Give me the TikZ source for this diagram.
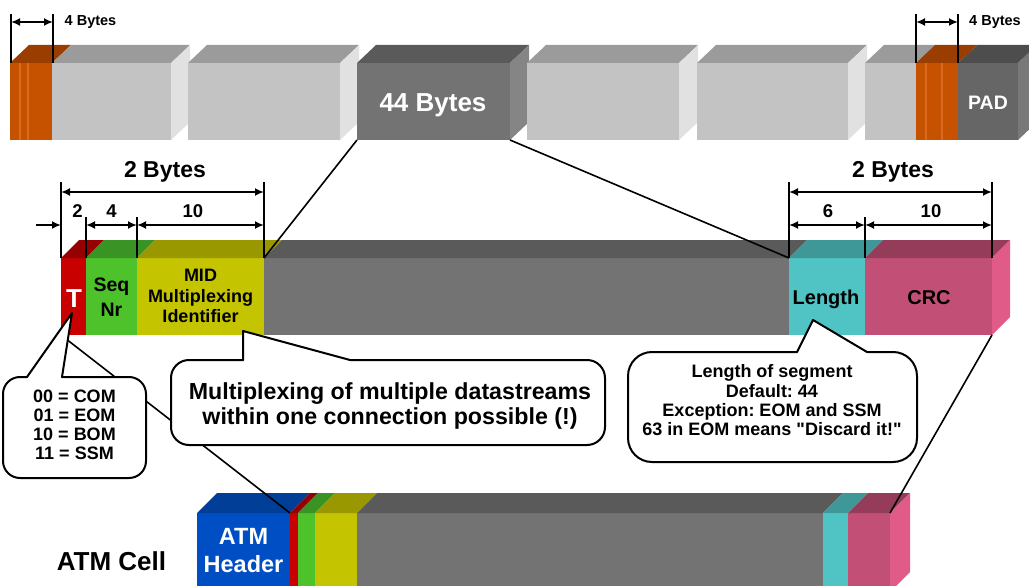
\documentclass[tikz,border=0pt]{standalone}
\usepackage{fontspec}
\setmainfont{Liberation Sans}
\newfontfamily\plainsans{Liberation Sans}
\usetikzlibrary{arrows.meta}
\definecolor{orF}{HTML}{C65200}
\definecolor{orT}{HTML}{9A3D00}
\definecolor{orS}{HTML}{DA6A22}
\definecolor{grF}{HTML}{C3C3C3}
\definecolor{grT}{HTML}{9B9B9B}
\definecolor{grS}{HTML}{E1E1E1}
\definecolor{dkF}{HTML}{737373}
\definecolor{dkT}{HTML}{5A5A5A}
\definecolor{dkS}{HTML}{858585}
\definecolor{pdF}{HTML}{666666}
\definecolor{pdT}{HTML}{4D4D4D}
\definecolor{pdS}{HTML}{787878}
\definecolor{rdF}{HTML}{C80000}
\definecolor{rdT}{HTML}{960000}
\definecolor{gnF}{HTML}{4EC22A}
\definecolor{gnT}{HTML}{3A9325}
\definecolor{ylF}{HTML}{C4C400}
\definecolor{ylT}{HTML}{9A9800}
\definecolor{mgF}{HTML}{737373}
\definecolor{mgT}{HTML}{5A5A5A}
\definecolor{cyF}{HTML}{50C4C4}
\definecolor{cyT}{HTML}{3E9898}
\definecolor{crF}{HTML}{C24F76}
\definecolor{crT}{HTML}{953C5A}
\definecolor{crS}{HTML}{E05B88}
\definecolor{blF}{HTML}{004EC3}
\definecolor{blT}{HTML}{003E98}
\newcommand{\fsz}[2]{\fontsize{#1pt}{#2pt}\selectfont}
\newcommand{\topblk}[4]{\fill[#3] (#1,63) rectangle (#2,140);
  \fill[#4] (#1,63) -- ({#1+19},45) -- ({#2+19},45) -- (#2,63) -- cycle;}
\newcommand{\topside}[2]{\fill[#2] (#1,63) -- ({#1+19},45) -- ({#1+19},122) -- (#1,140) -- cycle;}
\newcommand{\midseg}[4]{\fill[#3] (#1,258) rectangle (#2,335);
  \fill[#4] (#1,258) -- ({#1+18},240) -- ({#2+18},240) -- (#2,258) -- cycle;}
\newcommand{\botseg}[4]{\fill[#3] (#1,513) rectangle (#2,592);
  \fill[#4] (#1,513) -- ({#1+20},493) -- ({#2+20},493) -- (#2,513) -- cycle;}
\tikzset{
  conn/.style={draw=black, line width=1.6pt},
  calloutbox/.style={draw=black, line width=2pt, fill=white, line cap=round},
  pointer/.style={draw=black, line width=2pt, line cap=round, line join=round},
  dimv/.style={draw=black, line width=2pt},
  dima/.style={draw=black, line width=2pt, {Latex[length=9pt,width=8pt]}-{Latex[length=9pt,width=8pt]}},
  dimr/.style={draw=black, line width=2pt, -{Latex[length=9pt,width=8pt]}},
  lbl/.style={inner sep=0pt, font=\bfseries},
}
\frenchspacing
\begin{document}
\begin{tikzpicture}[x=1pt,y=-1pt]
\useasboundingbox (0,0) rectangle (1029,586);
% ---------- top row ----------
\topblk{10}{52}{orF}{orT}
\draw[orS, line width=1.2pt] (20,63) -- (20,140) (28,63) -- (28,140);
\topblk{52}{171}{grF}{grT}\topside{171}{grS}
\topblk{188}{340}{grF}{grT}\topside{340}{grS}
\topblk{357}{510}{dkF}{dkT}\topside{510}{dkS}
\topblk{527}{679}{grF}{grT}\topside{679}{grS}
\topblk{697}{848}{grF}{grT}\topside{848}{grS}
\topblk{865}{916}{grF}{grT}
\topblk{916}{958}{orF}{orT}
\draw[orS, line width=1.2pt] (926,63) -- (926,140) (942,63) -- (942,140);
\topblk{958}{1018}{pdF}{pdT}\topside{1018}{pdS}
\node[lbl, text=white, font=\bfseries\fsz{26}{30}, anchor=base] (b44) at (433,112) {44 Bytes};
\node[lbl, text=white, font=\bfseries\fsz{19.5}{23}, anchor=base] (pad) at (988,110) {PAD};
% ---------- middle row ----------
\midseg{61}{86}{rdF}{rdT}
\midseg{86}{137}{gnF}{gnT}
\midseg{137}{264}{ylF}{ylT}
\midseg{264}{789}{mgF}{mgT}
\midseg{789}{865}{cyF}{cyT}
\midseg{865}{992}{crF}{crT}
\fill[crS] (992,258) -- (1010,240) -- (1010,317) -- (992,335) -- cycle;
\node[lbl, text=white, font=\bfseries\fsz{26}{30}, anchor=base] (tfield) at (74,307) {T};
\node[lbl, align=center, font=\bfseries\fsz{19.5}{25}] (seq) at (111.5,297.5) {Seq\\Nr};
\node[lbl, align=center, font=\bfseries\fsz{18}{20.5}] (mid) at (200.5,296) {MID\\Multiplexing\\Identifier};
\node[lbl, font=\bfseries\fsz{20}{24}, anchor=base] (len) at (826,304) {Length};
\node[lbl, font=\bfseries\fsz{20}{24}, anchor=base] (crc) at (929,304) {CRC};
% ---------- bottom row ----------
\botseg{197}{290}{blF}{blT}
\botseg{290}{298}{rdF}{rdT}
\botseg{298}{315}{gnF}{gnT}
\botseg{315}{357}{ylF}{ylT}
\botseg{357}{823}{mgF}{mgT}
\botseg{823}{848}{cyF}{cyT}
\botseg{848}{890}{crF}{crT}
\fill[crS] (890,513) -- (910,493) -- (910,572) -- (890,592) -- cycle;
\node[lbl, text=white, align=center, font=\bfseries\fsz{23.5}{28}] (atmh) at (243.5,550.5) {ATM\\Header};
\node[lbl, font=\bfseries\fsz{26}{30}, anchor=base] (atmcell) at (111.5,570) {ATM Cell};
% ---------- connector lines ----------
\coordinate (B44l) at (357,140); \coordinate (B44r) at (510,140);
\coordinate (MIDtr) at (264,258); \coordinate (LENtl) at (789,258);
\coordinate (Tbl) at (61,335); \coordinate (ATMred) at (290,513);
\coordinate (CRCbr) at (992,335); \coordinate (ATMcrc) at (890,513);
\draw[conn] (B44l) -- (MIDtr);
\draw[conn] (B44r) -- (LENtl);
\draw[conn] (Tbl) -- (ATMred);
\draw[conn] (CRCbr) -- (ATMcrc);
% ---------- callouts ----------
\coordinate (Ttip) at (72,313); \coordinate (Tb1) at (27,377); \coordinate (Tb2) at (62,377);
\fill[white] (Tb1) -- (Ttip) -- (Tb2) -- cycle;
\draw[calloutbox, rounded corners=17pt] (Tb2) -- (146,377) -- (146,478) -- (3,478) -- (3,377) -- (Tb1);
\draw[pointer] (Tb1) -- (Ttip) -- (Tb2);
\node[lbl, align=center, font=\bfseries\fsz{18}{19}] (tcodes) at (74.5,425) {00 = COM\\01 = EOM\\10 = BOM\\11 = SSM};

\coordinate (Mtip) at (243,331); \coordinate (Mb1) at (243,360); \coordinate (Mb2) at (350,360);
\fill[white] (Mb1) -- (Mtip) -- (Mb2) -- cycle;
\draw[calloutbox, rounded corners=18pt] (Mb2) -- (605,360) -- (605,445) -- (171,445) -- (171,360) -- (Mb1);
\draw[pointer] (Mb1) -- (Mtip) -- (Mb2);
\node[lbl, align=center, font=\bfseries\fsz{23.2}{25}] (mux) at (390,405.5) {Multiplexing of multiple datastreams\\within one connection possible (!)};

\coordinate (Ltip) at (813,320); \coordinate (Lb1) at (797,352); \coordinate (Lb2) at (867,352);
\fill[white] (Lb1) -- (Ltip) -- (Lb2) -- cycle;
\draw[calloutbox, rounded corners=24pt] (Lb2) -- (917,352) -- (917,462) -- (628,462) -- (628,352) -- (Lb1);
\draw[pointer] (Lb1) -- (Ltip) -- (Lb2);
\node[lbl, align=center, font=\plainsans\bfseries\fsz{18}{19.3}] (lennote) at (772,400.5) {Length of segment\\Default: 44\\Exception: EOM and SSM\\63 in EOM means "Discard it!"};
% ---------- dimensions ----------
\draw[dimv] (11,14) -- (11,63) (53,14) -- (53,63);
\draw[dima] (11,22) -- (53,22);
\node[lbl, font=\bfseries\fsz{14.5}{17}, anchor=base] (d4a) at (90.5,26) {4 Bytes};
\draw[dimv] (916,14) -- (916,63) (958,14) -- (958,63);
\draw[dima] (916,22) -- (958,22);
\node[lbl, font=\bfseries\fsz{14.5}{17}, anchor=base] (d4b) at (995,26) {4 Bytes};

\draw[dimv] (61,182) -- (61,258) (264,182) -- (264,258) (86,217) -- (86,258) (137,217) -- (137,258);
\draw[dima] (61,192) -- (264,192);
\draw[dimr] (36,225) -- (61,225);
\draw[dima] (86,225) -- (137,225);
\draw[dima] (137,225) -- (264,225);
\node[lbl, font=\bfseries\fsz{23}{27}, anchor=base] (d2a) at (165,177) {2 Bytes};
\node[lbl, font=\bfseries\fsz{18.5}{22}, anchor=base] (n2) at (77.5,217) {2};
\node[lbl, font=\bfseries\fsz{18.5}{22}, anchor=base] (n4) at (111.5,217) {4};
\node[lbl, font=\bfseries\fsz{18.5}{22}, anchor=base] (n10a) at (193,217) {10};

\draw[dimv] (789,182) -- (789,258) (992,182) -- (992,258) (865,217) -- (865,258);
\draw[dima] (789,192) -- (992,192);
\draw[dima] (789,225) -- (865,225);
\draw[dima] (865,225) -- (992,225);
\node[lbl, font=\bfseries\fsz{23}{27}, anchor=base] (d2b) at (893,177) {2 Bytes};
\node[lbl, font=\bfseries\fsz{18.5}{22}, anchor=base] (n6) at (828,217) {6};
\node[lbl, font=\bfseries\fsz{18.5}{22}, anchor=base] (n10b) at (931,217) {10};
\end{tikzpicture}
\end{document}
